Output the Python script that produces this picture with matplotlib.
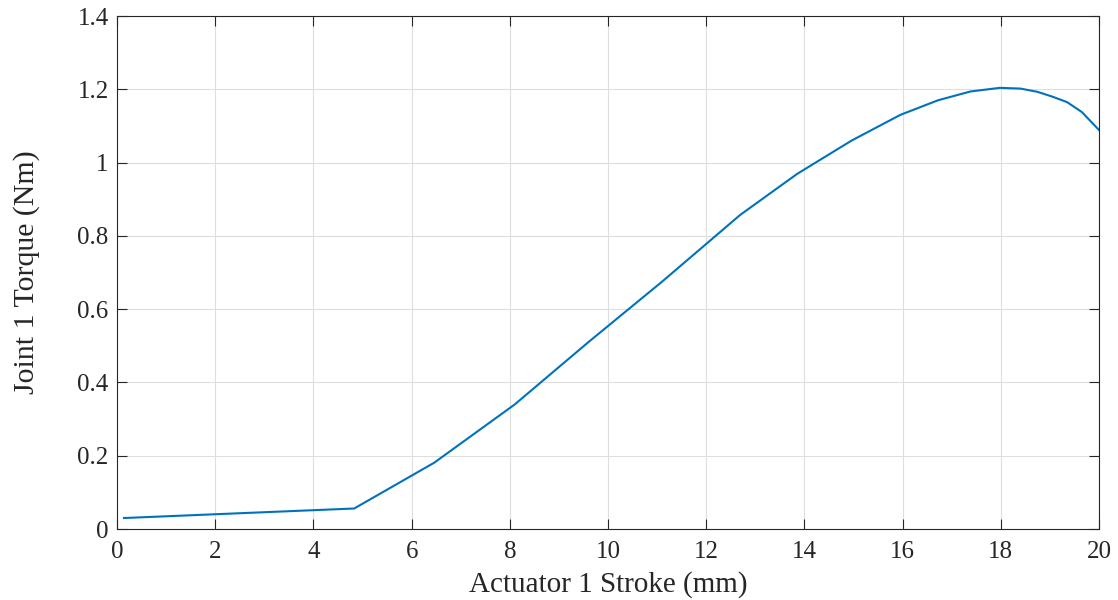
import matplotlib.pyplot as plt
import numpy as np

# actuator stroke (mm) and joint torque (Nm)
stroke = [0.14, 4.83, 6.46, 8.1, 9.6, 11.1, 12.69, 13.85, 14.96, 15.95,
          16.72, 17.38, 17.98, 18.4, 18.75, 19.05, 19.35, 19.65, 20.0]
torque = [0.030, 0.056, 0.181, 0.340, 0.510, 0.675, 0.857, 0.969, 1.060, 1.130,
          1.170, 1.194, 1.204, 1.202, 1.193, 1.180, 1.165, 1.138, 1.089]
x_ticks = np.arange(0, 21, 2)
y_ticks = [0, 0.2, 0.4, 0.6, 0.8, 1, 1.2, 1.4]
y_tick_labels = ['0', '0.2', '0.4', '0.6', '0.8', '1', '1.2', '1.4']


def main() -> None:
    plt.rcParams['font.family'] = ['Liberation Serif', 'DejaVu Serif']
    fig = plt.figure(figsize=(11.18, 6), dpi=100)
    ax = fig.add_axes([0.1047, 0.1183, 0.8783, 0.855])
    ax.plot(stroke, torque, color='#0072BD', linewidth=1.5)
    ax.set_xlim(0, 20)
    ax.set_ylim(0, 1.4)
    ax.set_xticks(x_ticks)
    ax.set_yticks(y_ticks)
    ax.set_yticklabels(y_tick_labels)
    ax.grid(True, color='#dedede', linewidth=0.8)
    ax.set_axisbelow(True)
    ax.tick_params(direction='in', top=True, right=True, length=7,
                   labelsize=18, colors='#262626')
    ax.tick_params(axis='x', pad=8.5)
    ax.tick_params(axis='y', pad=6)
    for s in ax.spines.values():
        s.set_color('#262626')
        s.set_linewidth(0.8)
    ax.set_xlabel('Actuator 1 Stroke (mm)', fontsize=21, color='#262626',
                  labelpad=6)
    ax.set_ylabel('Joint 1 Torque (Nm)', fontsize=21.5, color='#262626',
                  labelpad=27)
    fig.savefig('out.png', dpi=100)


if __name__ == "__main__":
    main()
